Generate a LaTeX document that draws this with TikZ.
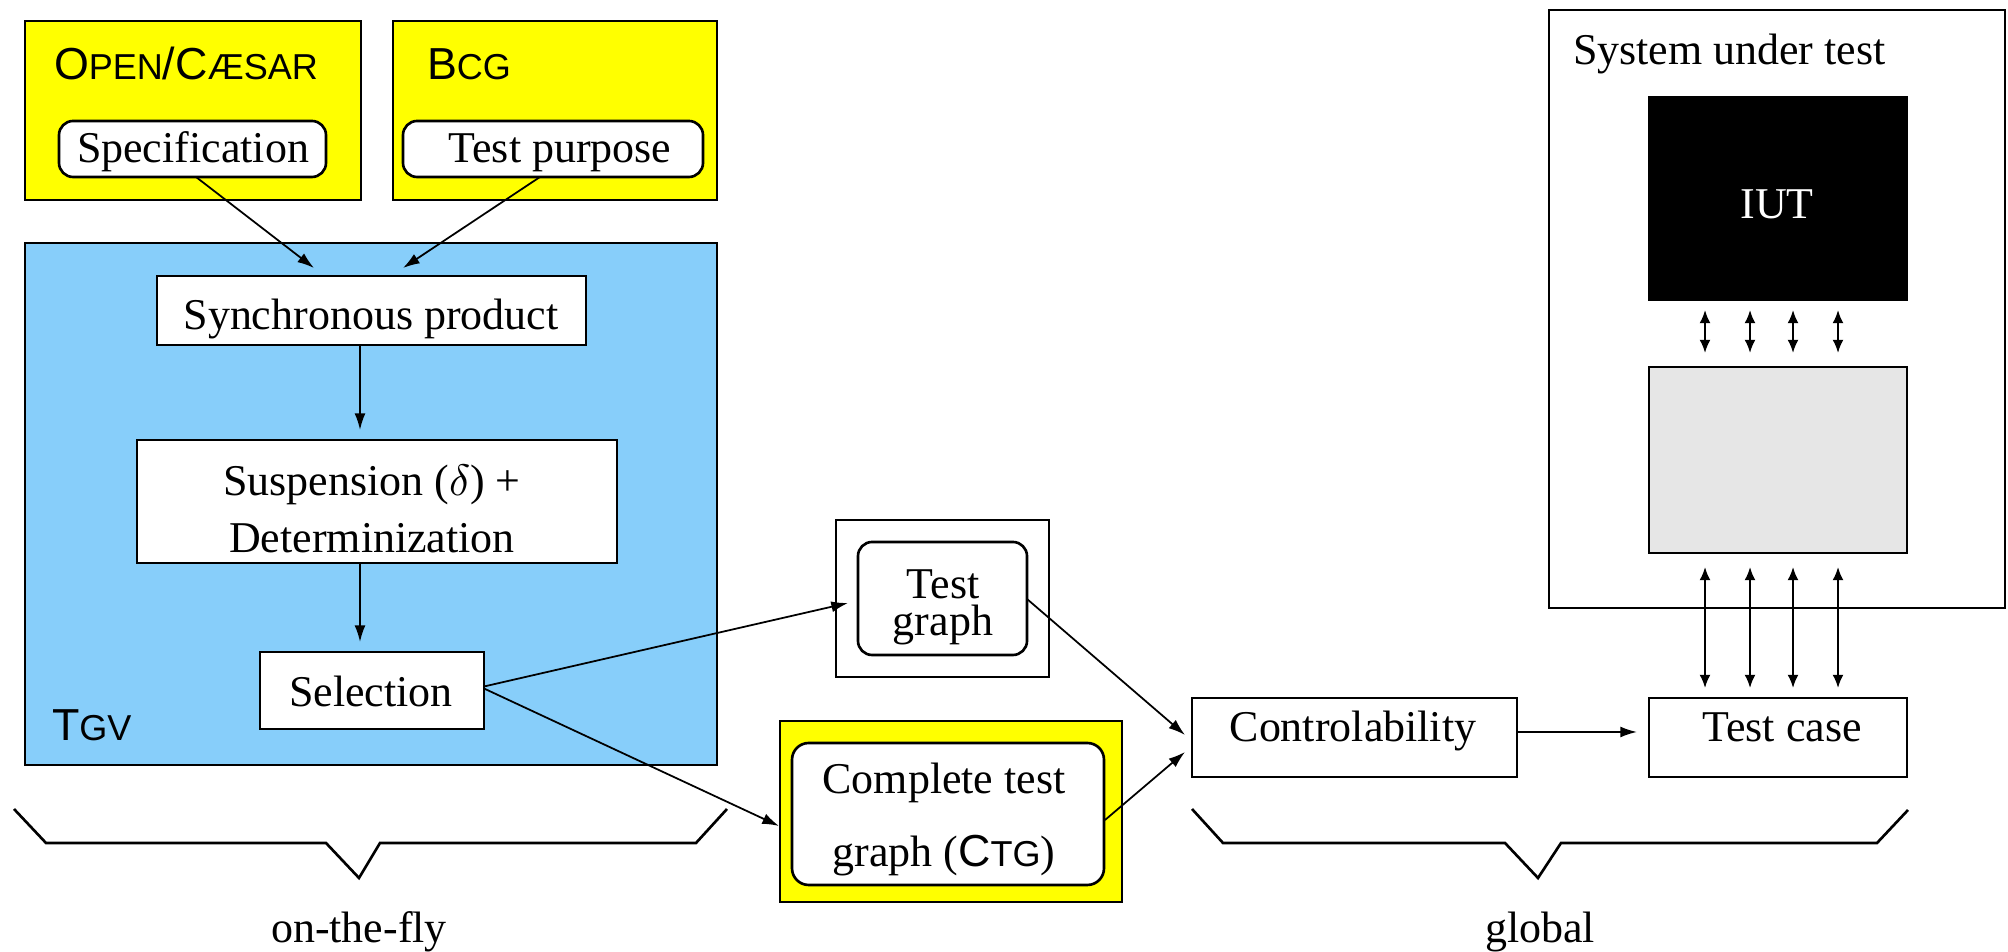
\documentclass[tikz,border=0pt]{standalone}
\usepackage{fontspec}
\setmainfont{Liberation Serif}
\newfontfamily\sansfam{Liberation Sans}
\usetikzlibrary{arrows.meta,calc}
\definecolor{tyellow}{RGB}{255,255,0}
\definecolor{tblue}{RGB}{135,206,250}
\definecolor{tgray}{RGB}{230,230,230}
\newcommand\pu{0.008cm}
\newcommand\smc[2]{{\sansfam\fontsize{10.2}{12}\selectfont #1\fontsize{8.2}{10}\selectfont #2}}
\newcommand\sansslash{{\sansfam\fontsize{10.2}{12}\selectfont /}}
\tikzset{
  bx/.style 2 args={draw=black,line width=0.6pt,inner sep=0pt,outer sep=0pt,
    minimum width=#1*\pu,minimum height=#2*\pu},
  rbx/.style 2 args={bx={#1}{#2},rounded corners=3.2pt},
  txt/.style={anchor=base,inner sep=0pt,outer sep=0pt,font=\fontsize{10}{12}\selectfont},
  arr/.style={line width=0.4pt,-{Latex[length=3.8pt,width=2.5pt]}},
  darr/.style={line width=0.45pt,{Latex[length=3pt,width=2.5pt]}-{Latex[length=3pt,width=2.5pt]}},
  bracepath/.style={line width=0.6pt,line join=miter}
}
\begin{document}
\begin{tikzpicture}[x=0.008cm,y=-0.008cm]
\useasboundingbox (0,0) rectangle (2008,952);

% top tool boxes
\node[bx={336}{179},fill=tyellow] (open) at (193,110.5) {};
\node[bx={324}{179},fill=tyellow] (bcg) at (555,110.5) {};
\node[txt,anchor=base west] (opentxt) at (54,80) {\smc{O}{PEN}\sansslash\smc{C}{ÆSAR}};
\node[txt,anchor=base west] (bcgtxt) at (427,80) {\smc{B}{CG}};
\node[rbx={267}{56},fill=white] (spec) at (192.5,149) {};
\node[txt] (spectxt) at (193,163) {Specification};
\node[rbx={300}{56},fill=white] (tp) at (553,149) {};
\node[txt] (tptxt) at (560,163) {Test purpose};

% TGV
\node[bx={692}{522},fill=tblue] (tgv) at (371,504) {};
\node[txt,anchor=base west] (tgvtxt) at (52,741) {\smc{T}{GV}};
\node[bx={429}{69},fill=white] (sync) at (371.5,310.5) {};
\node[txt] (synctxt) at (371,330) {Synchronous product};
\node[bx={480}{123},fill=white] (susp) at (377,501.5) {};
\node[txt,align=center,font=\fontsize{10}{13}\selectfont] (susptxt) at (372,553) {Suspension ($\delta$) +\\Determinization};
\node[bx={224}{77},fill=white] (sel) at (372,690.5) {};
\node[txt] (seltxt) at (371,707) {Selection};

% test graphs
\node[bx={213}{157},fill=white] (tgo) at (942.5,598.5) {};
\node[rbx={169}{113},fill=white] (tgi) at (942.5,598.5) {};
\node[txt,align=center,font=\fontsize{10}{8.5}\selectfont] (tgtxt) at (943,636) {Test\\graph};
\node[bx={342}{181},fill=tyellow] (ctgo) at (951,811.5) {};
\node[rbx={312}{142},fill=white,rounded corners=3.8pt] (ctgi) at (948,814) {};
\node[txt,align=center,font=\fontsize{10}{16.8}\selectfont] (ctgtxt) at (944,867) {Complete test\\graph (\smc{C}{TG})};

% global part
\node[bx={325}{79},fill=white] (ctrl) at (1354.5,737.5) {};
\node[txt] (ctrltxt) at (1353,742) {Controlability};
\node[bx={258}{79},fill=white] (tcase) at (1778,737.5) {};
\node[txt] (tcasetxt) at (1782,742) {Test case};

% system under test
\node[bx={456}{598},fill=white] (sut) at (1777,309) {};
\node[txt,anchor=base west] (suttxt) at (1573,65) {System under test};
\node[bx={258}{203},fill=black] (iut) at (1778,198.5) {};
\node[txt,text=white] (iuttxt) at (1777,219) {IUT};
\node[bx={258}{186},fill=tgray] (adapt) at (1778,460) {};

% connectors
\draw[arr] ($(spec.south)+(3.5,0)$) -- ($(sync.north)+(-57.5,-8)$);
\draw[arr] ($(tp.south)+(-13,0)$) -- ($(sync.north)+(31.5,-8)$);
\draw[arr] ($(sync.south)+(-11.5,0)$) -- ($(susp.north)+(-17,-10)$);
\draw[arr] ($(susp.south)+(-17,0)$) -- ($(sel.north)+(-12,-10)$);
\draw[arr] ($(sel.east)+(0,-4)$) -- ($(tgi.west)+(-10,4.5)$);
\draw[arr] ($(sel.east)+(0,-2)$) -- ($(ctgo.west)+(-1,14.5)$);
\draw[arr] ($(tgi.east)+(0,0.5)$) -- ($(ctrl.west)+(-7,-2.5)$);
\draw[arr] ($(ctgi.east)+(1,6)$) -- ($(ctrl.west)+(-7,14.5)$);
\draw[arr] ($(ctrl.east)+(0,-5.5)$) -- ($(tcase.west)+(-12,-5.5)$);
\foreach \dx in {-73,-28,15,60}{
  \draw[darr] ($(iut.south)+(\dx,10)$) -- ($(adapt.north)+(\dx,-14)$);
  \draw[darr] ($(adapt.south)+(\dx,14)$) -- ($(tcase.north)+(\dx,-10)$);
}

% braces
\draw[bracepath] (14,809)--(46,843)--(326,843)--(359,878)--(380,843)--(696,843)--(727,809);
\draw[bracepath] (1192,809)--(1223,843)--(1505,843)--(1538,878)--(1561,843)--(1877,843)--(1908,810);
\node[txt] (otf) at (359,943) {on-the-fly};
\node[txt] (glob) at (1540,943) {global};
\end{tikzpicture}
\end{document}
